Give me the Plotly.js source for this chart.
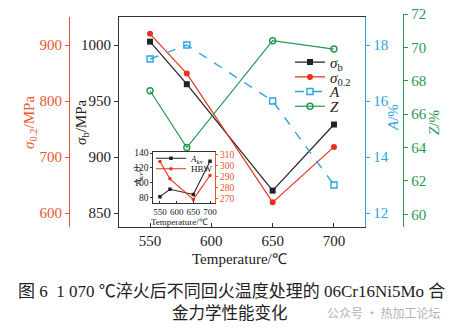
<!DOCTYPE html>
<html><head><meta charset="utf-8">
<script src="https://cdn.plot.ly/plotly-3.0.1.min.js"></script>
<style>html,body{margin:0;padding:0;background:#fff}</style>
</head><body><div id="chart" style="width:458px;height:328px"></div>
<script>
// ---- data ----
const temps = [550, 580, 650, 700];
const sigmaB = [1003, 965, 870, 929];
const sigma02 = [920, 849, 619, 718];
const elongA = [17.5, 18.0, 16.0, 13.0];
const reductionZ = [67.4, 64.0, 70.4, 69.9];
const insetTemps = [550, 580, 650, 700];
const akv = [81, 91, 84, 129];
const hbw = [304, 288, 269, 291];
const seriesNames = ['<i>σ</i><sub>b</sub>', '<i>σ</i><sub>0.2</sub>', '<i>A</i>', '<i>Z</i>', '<i>A</i><sub>kv</sub>', 'HBW'];
const captionLine1 = '图 6  1 070 ℃淬火后不同回火温度处理的 06Cr16Ni5Mo 合';
const captionLine2 = '金力学性能变化';
const watermark = '公众号 · 热加工论坛';

// ---- styles ----
const W = 458, H = 328;
const px = v => v / W, py = v => 1 - v / H;
const SERIF = '"Liberation Serif", "Times New Roman", serif';
const CAP = '"Liberation Serif", "Noto Sans CJK SC", serif';
const BLACK = '#222', RED = '#e5321f', REDAX = '#e8542f', CYAN = '#2aa6de', GREEN = '#1f9a50';

const traces = [
  {x: temps, y: sigmaB, name: seriesNames[0], xaxis: 'x', yaxis: 'y', mode: 'lines+markers',
   line: {color: BLACK, width: 1.2}, marker: {symbol: 'square', size: 6, color: BLACK}, legend: 'legend'},
  {x: temps, y: sigma02, name: seriesNames[1], xaxis: 'x', yaxis: 'y2', mode: 'lines+markers',
   line: {color: RED, width: 1.2}, marker: {symbol: 'circle', size: 6, color: RED}, legend: 'legend2'},
  {x: temps, y: elongA, name: seriesNames[2], xaxis: 'x', yaxis: 'y3', mode: 'lines+markers',
   line: {color: CYAN, width: 1.4, dash: 'dash'}, marker: {symbol: 'square-open', size: 6, color: CYAN, line: {width: 1.4}}, legend: 'legend3'},
  {x: temps, y: reductionZ, name: seriesNames[3], xaxis: 'x', yaxis: 'y4', mode: 'lines+markers',
   line: {color: GREEN, width: 1.2}, marker: {symbol: 'circle-open', size: 6, color: GREEN, line: {width: 1.4}}, legend: 'legend4'},
  {x: insetTemps, y: akv, name: seriesNames[4], xaxis: 'x2', yaxis: 'y5', mode: 'lines+markers',
   line: {color: BLACK, width: 1.1}, marker: {symbol: 'square', size: 3.5, color: BLACK}, legend: 'legend5'},
  {x: insetTemps, y: hbw, name: seriesNames[5], xaxis: 'x2', yaxis: 'y6', mode: 'lines+markers',
   line: {color: RED, width: 1.1}, marker: {symbol: 'circle', size: 3.5, color: RED}, legend: 'legend6'}
];

const mainDomY = [py(227), py(17)];
const tf = (c, s) => ({family: SERIF, size: s, color: c});
const legendBase = (x, y, s) => ({x: x, y: y, xanchor: 'left', yanchor: 'middle', bgcolor: 'rgba(0,0,0,0)',
  borderwidth: 0, font: {family: SERIF, size: s, color: BLACK}, itemclick: false});

const layout = {
  width: W, height: H, margin: {l: 0, r: 0, t: 0, b: 0},
  font: {family: SERIF, size: 15, color: BLACK},
  paper_bgcolor: '#fff', plot_bgcolor: 'rgba(0,0,0,0)',
  xaxis: {domain: [px(119), px(365)], range: [524.7, 725.3], tick0: 550, dtick: 50, ticks: 'inside', ticklen: 4,
          tickcolor: '#333', showline: true, linecolor: '#333', linewidth: 1, mirror: true, showgrid: false,
          zeroline: false, tickfont: tf(BLACK, 15), tickangle: 0, anchor: 'y'},
  yaxis: {domain: mainDomY, range: [837.5, 1025], tick0: 850, dtick: 50, ticks: 'outside', ticklen: 4,
          tickcolor: '#333', showline: true, linecolor: '#333', linewidth: 1, showgrid: false, zeroline: false,
          tickfont: tf(BLACK, 15), anchor: 'x'},
  yaxis2: {overlaying: 'y', anchor: 'free', position: px(69), side: 'left', range: [575, 950], tick0: 600, dtick: 100,
           ticks: 'outside', ticklen: 4, tickcolor: REDAX, showline: true, linecolor: REDAX, linewidth: 1.2,
           showgrid: false, zeroline: false, tickfont: tf(REDAX, 15)},
  yaxis3: {overlaying: 'y', anchor: 'x', side: 'right', range: [11.5, 19], tick0: 12, dtick: 2,
           ticks: 'outside', ticklen: 4, tickcolor: CYAN, showline: true, linecolor: CYAN, linewidth: 1.2,
           showgrid: false, zeroline: false, tickfont: tf(CYAN, 15)},
  yaxis4: {domain: [py(227), py(13.5)], anchor: 'free', position: px(403), side: 'right', range: [59.24, 72.03],
           tick0: 60, dtick: 2, ticks: 'outside', ticklen: 4, tickcolor: GREEN, showline: true, linecolor: GREEN,
           linewidth: 1.2, showgrid: false, zeroline: false, tickfont: tf(GREEN, 15)},
  xaxis2: {domain: [px(153.3), px(215)], anchor: 'y5', range: [530, 715], tick0: 550, dtick: 50, ticks: 'inside',
           ticklen: 2, tickcolor: '#333', showline: true, linecolor: '#333', linewidth: 1, mirror: true,
           showgrid: false, zeroline: false, tickfont: tf(BLACK, 9), tickangle: 0},
  yaxis5: {domain: [py(203.3), py(151.7)], anchor: 'x2', range: [72, 142], tick0: 80, dtick: 20, ticks: 'outside',
           ticklen: 2, tickcolor: '#333', showline: true, linecolor: '#333', linewidth: 1, showgrid: false,
           zeroline: false, tickfont: tf(BLACK, 9.5)},
  yaxis6: {overlaying: 'y5', anchor: 'x2', side: 'right', range: [265.4, 313], tick0: 270, dtick: 10,
           ticks: 'outside', ticklen: 2, tickcolor: REDAX, showline: true, linecolor: REDAX, linewidth: 1,
           showgrid: false, zeroline: false, tickfont: tf(REDAX, 9.5)},
  showlegend: true,
  legend: legendBase(px(290), py(62.3), 15),
  legend2: legendBase(px(290), py(77.2), 15),
  legend3: legendBase(px(290), py(91.8), 15),
  legend4: legendBase(px(290), py(106.5), 15),
  legend5: legendBase(px(151), py(158.2), 9),
  legend6: legendBase(px(151), py(168.8), 9),
  annotations: [
    {text: '<i>σ</i><sub>0.2</sub>/MPa', x: px(30), y: py(123), textangle: -90, font: tf(REDAX, 15)},
    {text: '<i>σ</i><sub>b</sub>/MPa', x: px(82), y: py(122), textangle: -90, font: tf(BLACK, 15)},
    {text: '<i>A</i>/%', x: px(393), y: py(118), textangle: -90, font: tf(CYAN, 15)},
    {text: '<i>Z</i>/%', x: px(434), y: py(123), textangle: -90, font: tf(GREEN, 15)},
    {text: 'Temperature/℃', x: px(239.5), y: py(259.3), font: tf(BLACK, 15)},
    {text: 'Temperature/℃', x: px(179.3), y: py(222), font: tf(BLACK, 9)},
    {text: '<i>A</i><sub>kv</sub>/J', x: px(138), y: py(176), textangle: -90, font: tf(BLACK, 9.5)},
    {text: captionLine1, x: px(231.5), y: py(291), font: {family: CAP, size: 17, color: '#222'}},
    {text: captionLine2, x: px(229.5), y: py(313), font: {family: CAP, size: 16.5, color: '#222'}},
    {text: watermark, x: px(383), y: py(312), font: {family: '"Noto Sans CJK SC", sans-serif', size: 12, color: '#b4b4b4'}}
  ].map(a => Object.assign({xref: 'paper', yref: 'paper', showarrow: false, xanchor: 'center', yanchor: 'middle'}, a))
};

Plotly.newPlot('chart', traces, layout, {displayModeBar: false, staticPlot: true});
</script></body></html>
